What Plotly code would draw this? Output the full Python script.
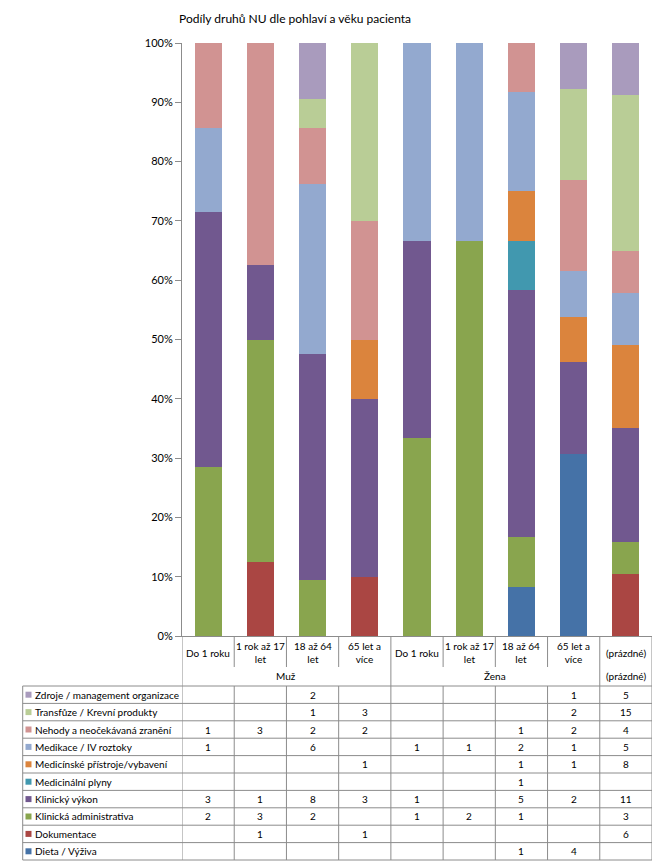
import plotly.graph_objects as go

# ---------------- data ----------------
groups = ["Muž", "Žena", "(prázdné)"]
group_sizes = [4, 4, 1]
ages = ["Do 1 roku", "1 rok až 17<br>let", "18 až 64<br>let", "65 let a<br>více",
        "Do 1 roku", "1 rok až 17<br>let", "18 až 64<br>let", "65 let a<br>více",
        "(prázdné)"]

# series in stacking order (bottom -> top); None = empty cell
dieta = [None, None, None, None, None, None, 1, 4, None]
dokumentace = [None, 1, None, 1, None, None, None, None, 6]
klin_admin = [2, 3, 2, None, 1, 2, 1, None, 3]
klin_vykon = [3, 1, 8, 3, 1, None, 5, 2, 11]
med_plyny = [None, None, None, None, None, None, 1, None, None]
med_pristroje = [None, None, None, 1, None, None, 1, 1, 8]
medikace = [1, None, 6, None, 1, 1, 2, 1, 5]
nehody = [1, 3, 2, 2, None, None, 1, 2, 4]
transfuze = [None, None, 1, 3, None, None, None, 2, 15]
zdroje = [None, None, 2, None, None, None, None, 1, 5]

series_names = ["Dieta / Výživa", "Dokumentace", "Klinická administrativa", "Klinický výkon",
                "Medicinální plyny", "Medicínské přístroje/vybavení", "Medikace / IV roztoky",
                "Nehody a neočekávaná zranění", "Transfůze / Krevní produkty",
                "Zdroje / management organizace"]
series_values = [dieta, dokumentace, klin_admin, klin_vykon, med_plyny, med_pristroje,
                 medikace, nehody, transfuze, zdroje]
colors = ["#4572A7", "#AA4643", "#89A54E", "#71588F", "#4198AF", "#DB843D",
          "#93A9CF", "#D19392", "#B9CD96", "#A99BBD"]

title = "Podíly druhů NU dle pohlaví a věku pacienta"

# ---------------- layout helpers (pixels) ----------------
W, H = 667, 866
PL, PR, PT, PB = 182, 652, 43, 636
FONT = "Lato"
GRID = "#8C8C8C"
TXT = "#000000"

def px(x):
    return (x - PL) / (PR - PL)

def py(y):
    return (PB - y) / (PB - PT)

n = len(ages)
xs = list(range(n))

fig = go.Figure()
for name, vals, col in zip(series_names, series_values, colors):
    fig.add_trace(go.Bar(
        x=xs, y=[v if v is not None else 0 for v in vals], name=name,
        marker=dict(color=col, line=dict(width=0)), showlegend=False,
    ))

shapes = []
annotations = []

# header: vertical lines between categories (first header row)
HDR_BOTTOM = 667
TABLE_TOP = 686
ROW_H = 17.4
nrows = len(series_names)
TABLE_BOTTOM = TABLE_TOP + nrows * ROW_H
LEG_LEFT = 22.7

def vline(xd, y0, y1):
    shapes.append(dict(type="line", xref="x", yref="paper", x0=xd, x1=xd,
                       y0=py(y0), y1=py(y1), line=dict(color=GRID, width=1)))

# group boundaries (full height)
bounds = [-0.5]
acc = -0.5
for s in group_sizes:
    acc += s
    bounds.append(acc)
for i in range(n + 1):
    xd = i - 0.5
    if xd in bounds:
        vline(xd, PB, TABLE_BOTTOM)
    else:
        vline(xd, PB, HDR_BOTTOM)
        vline(xd, TABLE_TOP, TABLE_BOTTOM)

# horizontal table lines
for k in range(nrows + 1):
    yy = TABLE_TOP + k * ROW_H
    shapes.append(dict(type="line", xref="paper", yref="paper", x0=px(LEG_LEFT), x1=1,
                       y0=py(yy), y1=py(yy), line=dict(color=GRID, width=1)))
# legend column left border
shapes.append(dict(type="line", xref="paper", yref="paper", x0=px(LEG_LEFT), x1=px(LEG_LEFT),
                   y0=py(TABLE_TOP), y1=py(TABLE_BOTTOM), line=dict(color=GRID, width=1)))

# category labels
for i, lab in enumerate(ages):
    annotations.append(dict(x=i, y=py((PB + HDR_BOTTOM) / 2 + 1), xref="x", yref="paper",
                            text=lab, showarrow=False, font=dict(family=FONT, size=10, color=TXT),
                            xanchor="center", yanchor="middle", align="center"))
# group labels
for g in range(len(groups)):
    cx = (bounds[g] + bounds[g + 1]) / 2
    annotations.append(dict(x=cx, y=py((HDR_BOTTOM + TABLE_TOP) / 2 - 1), xref="x", yref="paper",
                            text=groups[g], showarrow=False, font=dict(family=FONT, size=10, color=TXT),
                            xanchor="center", yanchor="middle"))

# table rows (top row = last series)
for r in range(nrows):
    si = nrows - 1 - r
    yc = TABLE_TOP + (r + 0.5) * ROW_H
    # legend key
    shapes.append(dict(type="rect", xref="paper", yref="paper", x0=px(25.5), x1=px(31.5),
                       y0=py(yc - 3), y1=py(yc + 3), fillcolor=colors[si], line=dict(width=0)))
    annotations.append(dict(x=px(33), y=py(yc), xref="paper", yref="paper", text=series_names[si],
                            showarrow=False, font=dict(family=FONT, size=10, color=TXT),
                            xanchor="left", yanchor="middle"))
    for i, v in enumerate(series_values[si]):
        if v is None:
            continue
        annotations.append(dict(x=i, y=py(yc), xref="x", yref="paper", text=str(v),
                                showarrow=False, font=dict(family=FONT, size=10, color=TXT),
                                xanchor="center", yanchor="middle"))

# title
annotations.append(dict(x=px(177), y=py(18), xref="paper", yref="paper", text=title,
                        showarrow=False, font=dict(family=FONT, size=12, color=TXT),
                        xanchor="left", yanchor="middle"))

fig.update_layout(
    width=W, height=H,
    margin=dict(l=PL, r=W - PR, t=PT, b=H - PB, pad=0),
    barmode="stack", barnorm="fraction", bargap=0.48,
    plot_bgcolor="white", paper_bgcolor="white",
    shapes=shapes, annotations=annotations,
    xaxis=dict(range=[-0.5, n - 0.5], showticklabels=False, ticks="", showgrid=False,
               zeroline=False, showline=True, linecolor=GRID, linewidth=1),
    yaxis=dict(range=[0, 1], tickformat=".0%", dtick=0.1, showgrid=False, zeroline=False,
               showline=True, linecolor=GRID, linewidth=1, ticks="outside", ticklen=6,
               tickcolor=GRID, tickfont=dict(family=FONT, size=11, color=TXT)),
    font=dict(family=FONT),
)

fig.write_html("out.html")
